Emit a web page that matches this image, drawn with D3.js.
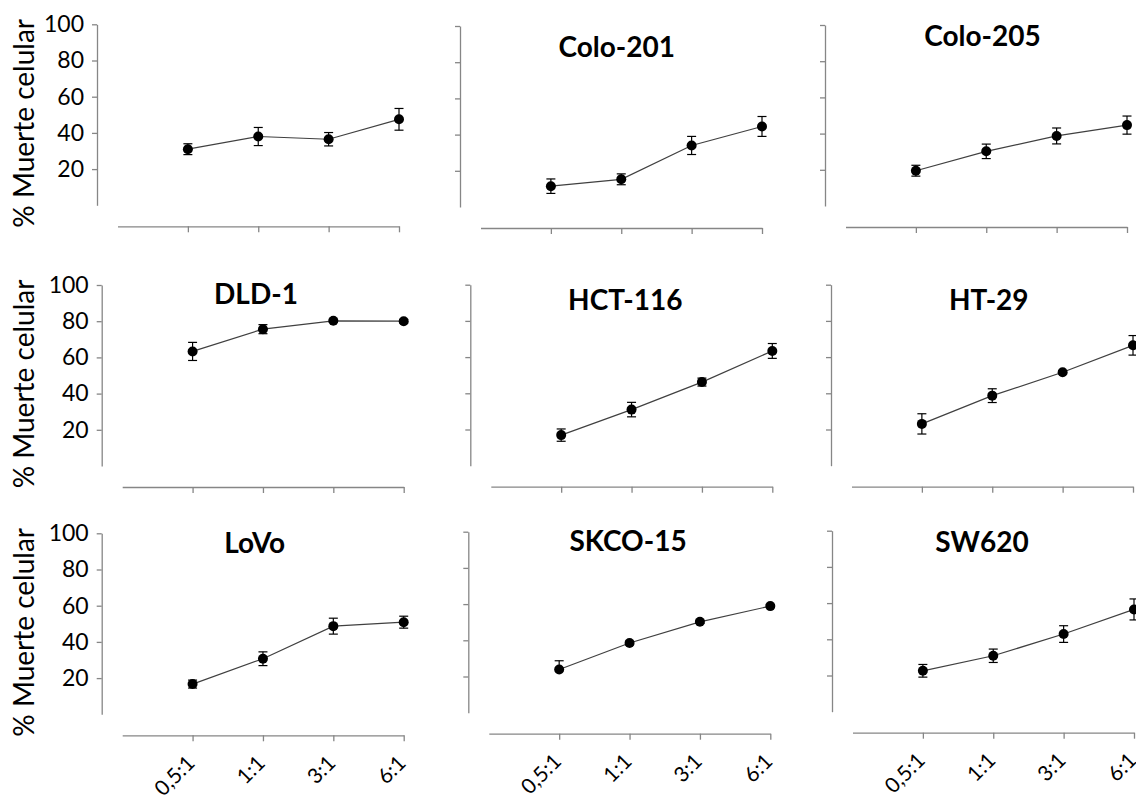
<!DOCTYPE html>
<html>
<head>
<meta charset="utf-8">
<script src="https://cdn.jsdelivr.net/npm/d3@7"></script>
<style>
	body { margin: 0; background: #fff; }
	text { font-family: Lato, "Open Sans", sans-serif; fill: #000; }
</style>
</head>
<body>
<div id="chart"></div>
<script>
// Ratios on the x axis and the cell lines (first panel has no title)
var ratios = ['0,5:1', '1:1', '3:1', '6:1'];
var lineas = ['', 'Colo-201', 'Colo-205', 'DLD-1', 'HCT-116', 'HT-29', 'LoVo', 'SKCO-15', 'SW620'];
var y_ticks = [20, 40, 60, 80, 100];
var y_title = '% Muerte celular';

// % cell death per panel, one value per ratio
var muerte = [
	[31, 38, 36.5, 47.5],
	[11.5, 15.3, 34, 44.5],
	[19.5, 30.2, 38.7, 44.7],
	[63.3, 75.6, 80.2, 80],
	[16.9, 31, 46.2, 63.4],
	[23.1, 38.7, 51.6, 66.5],
	[16.7, 30.7, 48.7, 50.9],
	[23.9, 38.5, 50.2, 58.9],
	[22.6, 30.9, 42.9, 56.5]
];
// error bars (upper / lower)
var err_high = [
	[3, 5, 3.7, 6],
	[4, 3, 5, 5.5],
	[3, 4, 4.4, 5],
	[5, 2.5, 0.8, 1],
	[3.4, 4, 2.2, 4.1],
	[5.6, 3.8, 0.8, 5.4],
	[2.2, 3.8, 4.4, 3.3],
	[4.8, 1, 0.8, 0.8],
	[3.5, 3.7, 4.6, 5.8]
];
var err_low = [
	[3, 5, 3.7, 6],
	[4, 3, 5, 5.5],
	[3, 4, 4.4, 5],
	[5, 2.5, 0.8, 1],
	[3.4, 4, 2.2, 4.1],
	[5.6, 3.8, 0.8, 5.4],
	[2.2, 3.8, 4.4, 3.3],
	[0, 1, 0.8, 0.8],
	[3.5, 3.7, 4.6, 5.8]
];

var total_width = 1136;
var total_height = 801;
// x of each panel's y axis, y of its 100 tick
var panel_pos = [
	[97, 24.3], [460, 26], [825, 25],
	[101.7, 285], [470.3, 284.7], [831, 284.7],
	[101.7, 533.3], [468.3, 531.7], [832, 530.7]
];
// title centre (from y axis) and baseline (from top tick)
var title_pos = [
	[0, 0], [156.7, 30.7], [157.5, 21],
	[154.3, 19.3], [155, 25.3], [157.8, 25.3],
	[153, 20], [159.8, 19], [150, 21.6]
];
var plot_height = 181;
var x_axis_gap = 202;
var cap = 4.5;

var svg = d3.select('#chart')
	.append('svg')
	.attr('width', total_width)
	.attr('height', total_height);

svg.append('rect')
	.attr('width', total_width)
	.attr('height', total_height)
	.attr('fill', '#fff');

lineas.forEach(function(name, p) {
	var col = p % 3;
	var row = Math.floor(p / 3);
	var ax = panel_pos[p][0];
	var top = panel_pos[p][1];
	var g = svg.append('g').attr('class', 'panel');

	var x = d3.scaleLinear().domain([0, 4]).range([ax + 20.5, ax + 302]);
	var y = d3.scaleLinear().domain([0, 100]).range([top + plot_height, top]);

	// Y axis
	var y_axis = g.append('g')
		.attr('transform', 'translate(' + ax + ',0)')
		.call(d3.axisLeft(y)
			.tickValues(y_ticks)
			.tickSize(5)
			.tickSizeOuter(0)
			.tickPadding(8)
			.tickFormat(col == 0 ? d3.format('d') : function() { return ''; }));
	y_axis.selectAll('text')
		.attr('font-size', '23px');

	// X axis sits below the plot
	var x_axis = g.append('g')
		.attr('transform', 'translate(0,' + (top + x_axis_gap) + ')')
		.call(d3.axisBottom(x)
			.tickValues([1, 2, 3, 4])
			.tickSize(6)
			.tickSizeOuter(0)
			.tickFormat(function(d) { return row == 2 ? ratios[d - 1] : ''; }));
	x_axis.selectAll('text')
		.attr('x', 0)
		.attr('y', 0)
		.attr('dy', 0)
		.attr('text-anchor', 'end')
		.attr('transform', 'translate(3,29) rotate(-45)')
		.attr('font-size', '21px');

	g.selectAll('.domain, .tick line')
		.attr('stroke', '#868686')
		.attr('stroke-width', 1.3);

	// Y axis title on the first column
	if (col == 0) {
		g.append('text')
			.attr('transform', 'translate(34,' + (top + 99) + ') rotate(-90)')
			.attr('text-anchor', 'middle')
			.attr('font-size', '28px')
			.text(y_title);
	}

	if (name != '') {
		g.append('text')
			.attr('x', ax + title_pos[p][0])
			.attr('y', top + title_pos[p][1])
			.attr('text-anchor', 'middle')
			.attr('font-size', '28px')
			.attr('font-weight', 'bold')
			.text(name);
	}

	var pts = muerte[p].map(function(v, i) {
		return { v: v, i: i, hi: err_high[p][i], lo: err_low[p][i] };
	});

	// connecting line
	g.append('path')
		.datum(pts)
		.attr('fill', 'none')
		.attr('stroke', '#404040')
		.attr('stroke-width', 1.2)
		.attr('d', d3.line()
			.x(function(d) { return x(d.i + 1); })
			.y(function(d) { return y(d.v); }));

	// error bars
	var eb = g.selectAll('.errbar')
		.data(pts)
		.enter()
		.append('g')
		.attr('class', 'errbar')
		.attr('stroke', '#000')
		.attr('stroke-width', 1.2);
	eb.append('line')
		.attr('x1', function(d) { return x(d.i + 1); })
		.attr('x2', function(d) { return x(d.i + 1); })
		.attr('y1', function(d) { return y(d.v + d.hi); })
		.attr('y2', function(d) { return y(d.v - d.lo); });
	eb.filter(function(d) { return d.hi > 0; })
		.append('line')
		.attr('x1', function(d) { return x(d.i + 1) - cap; })
		.attr('x2', function(d) { return x(d.i + 1) + cap; })
		.attr('y1', function(d) { return y(d.v + d.hi); })
		.attr('y2', function(d) { return y(d.v + d.hi); });
	eb.filter(function(d) { return d.lo > 0; })
		.append('line')
		.attr('x1', function(d) { return x(d.i + 1) - cap; })
		.attr('x2', function(d) { return x(d.i + 1) + cap; })
		.attr('y1', function(d) { return y(d.v - d.lo); })
		.attr('y2', function(d) { return y(d.v - d.lo); });

	// markers
	g.selectAll('.punto')
		.data(pts)
		.enter()
		.append('circle')
		.attr('class', 'punto')
		.attr('cx', function(d) { return x(d.i + 1); })
		.attr('cy', function(d) { return y(d.v); })
		.attr('r', 5)
		.attr('fill', '#000');
});
</script>
</body>
</html>
